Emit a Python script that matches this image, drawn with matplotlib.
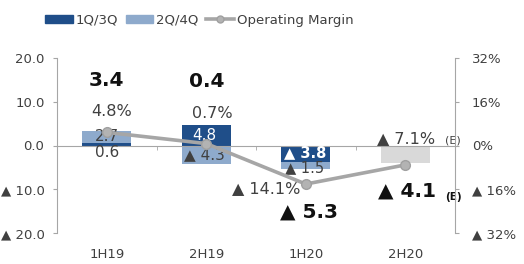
import matplotlib.pyplot as plt
import numpy as np
from matplotlib.patches import Patch
from matplotlib.lines import Line2D

# data
periods = ['1H19', '2H19', '1H20', '2H20']
q13 = [0.6, 4.8, -3.8, np.nan]        # 1Q/3Q
q24 = [2.7, -4.3, -1.5, np.nan]       # 2Q/4Q
estimate = [np.nan, np.nan, np.nan, -4.1]
totals = [3.4, 0.4, -5.3, -4.1]
margin = [4.8, 0.7, -14.1, -7.1]      # operating margin, %

left_ticks = [-20, -10, 0, 10, 20]
right_ticks = [-32, -16, 0, 16, 32]

dark = '#1f4e89'
light = '#8eaacc'
grey_bar = '#d9d9d9'
axis_grey = '#a6a6a6'
txt = '#404040'


def fmt(v, suffix='', dec=1):
    # negative values are written with a triangle
    if v < 0:
        return f'\u25b2 {abs(v):.{dec}f}{suffix}'
    return f'{v:.{dec}f}{suffix}'


fig = plt.figure(figsize=(5.24, 2.64), dpi=100)
ax = fig.add_axes([57/524, 1 - 233/264, (455 - 57)/524, (233 - 58)/264])

x = np.arange(len(periods))
w = 0.49

# stacking: second quarter bar sits on the first if both go the same way
bottom = [a if (b * a) > 0 else 0 for a, b in zip(q13, q24)]
ax.bar(x, q13, w, color=dark, zorder=2)
ax.bar(x, q24, w, bottom=bottom, color=light, zorder=2)
ax.bar(x, estimate, w, color=grey_bar, zorder=2)

ax.set_xlim(-0.5, 3.5)
ax.set_ylim(-20, 20)
ax.set_yticks(left_ticks, [fmt(t) for t in left_ticks])
ax.tick_params(axis='y', direction='out', length=3, color=axis_grey,
               labelsize=9.5, labelcolor=txt, pad=6)

# zero line with little ticks between categories
ax.spines['bottom'].set_position(('data', 0))
ax.spines['bottom'].set_color(axis_grey)
ax.spines['left'].set_color(axis_grey)
ax.spines['top'].set_visible(False)
ax.spines['right'].set_visible(False)
ax.set_xticks(x)
ax.set_xticks([0.5, 1.5, 2.5], minor=True)
ax.tick_params(axis='x', which='major', length=0, labelbottom=False)
ax.tick_params(axis='x', which='minor', length=3, direction='out', color=axis_grey)

# category labels at the bottom of the plot
sec = ax.secondary_xaxis('bottom')
sec.set_xticks(x, periods)
sec.spines['bottom'].set_visible(False)
sec.tick_params(length=0, pad=11, labelsize=9.5, labelcolor=txt)

# operating margin on the right axis
ax2 = ax.twinx()
ax2.set_ylim(-32, 32)
ax2.plot(x, margin, color=axis_grey, lw=2.6, marker='o', ms=7,
         mfc='#b3b3b3', mec='#a0a0a0', zorder=3)
ax2.set_yticks(right_ticks, [fmt(t, '%', 0) for t in right_ticks])
ax2.tick_params(axis='y', direction='out', length=3, color=axis_grey,
                labelsize=9.5, labelcolor=txt, pad=9)
for s in ['top', 'bottom', 'left']:
    ax2.spines[s].set_visible(False)
ax2.spines['right'].set_color(axis_grey)

# segment labels
ax.text(0, 1.95, fmt(q24[0]), ha='center', va='center', fontsize=11, color=txt, zorder=4)
ax.text(0, -1.6, fmt(q13[0]), ha='center', va='center', fontsize=11, color=txt, zorder=4)
ax.text(0.98, q13[1] / 2, fmt(q13[1]), ha='center', va='center', fontsize=11, color='white', zorder=4)
ax.text(0.98, q24[1] / 2, fmt(q24[1]), ha='center', va='center', fontsize=11, color=txt, zorder=4)
ax.text(1.99, -1.6, fmt(q13[2]), ha='center', va='center', fontsize=10.5,
        color='white', fontweight='bold', zorder=4)
ax.text(1.99, -5.0, fmt(q24[2]), ha='center', va='center', fontsize=10.5, color=txt, zorder=4)

# half-year totals
total_pos = [(0, 14.9), (1, 14.7), (2.03, -15.1), (3.02, -10.3)]
for v, (px, py) in zip(totals, total_pos):
    ax.text(px, py, fmt(v), ha='center', va='center', fontsize=14.5,
            fontweight='bold', color='#111111')
ax.text(3.48, -11.8, '(E)', ha='center', va='center', fontsize=7.5,
        fontweight='bold', color='#111111')

# margin labels
ax.text(0.05, 7.7, fmt(margin[0], '%'), ha='center', va='center', fontsize=11.5, color=txt)
ax.text(1.06, 7.2, fmt(margin[1], '%'), ha='center', va='center', fontsize=11.5, color=txt)
ax.text(1.95, -9.8, fmt(margin[2], '%'), ha='right', va='center', fontsize=11.5, color=txt)
ax.text(3.01, 1.7, fmt(margin[3], '%'), ha='center', va='center', fontsize=11.5, color=txt)
ax.text(3.48, 1.1, '(E)', ha='center', va='center', fontsize=8, color=txt)

handles = [Patch(color=dark, label='1Q/3Q'),
           Patch(color=light, label='2Q/4Q'),
           Line2D([], [], color=axis_grey, lw=2.6, marker='o', ms=5,
                  mfc='#b3b3b3', mec='#a0a0a0', label='Operating Margin')]
fig.legend(handles=handles, loc='center left', bbox_to_anchor=(45/524, 0.924),
           ncol=3, frameon=False, fontsize=9.5, handlelength=2.1, handleheight=0.55,
           handletextpad=0.2, columnspacing=0.6, borderpad=0, borderaxespad=0,
           labelcolor=txt)

fig.savefig('out.png', dpi=100)
